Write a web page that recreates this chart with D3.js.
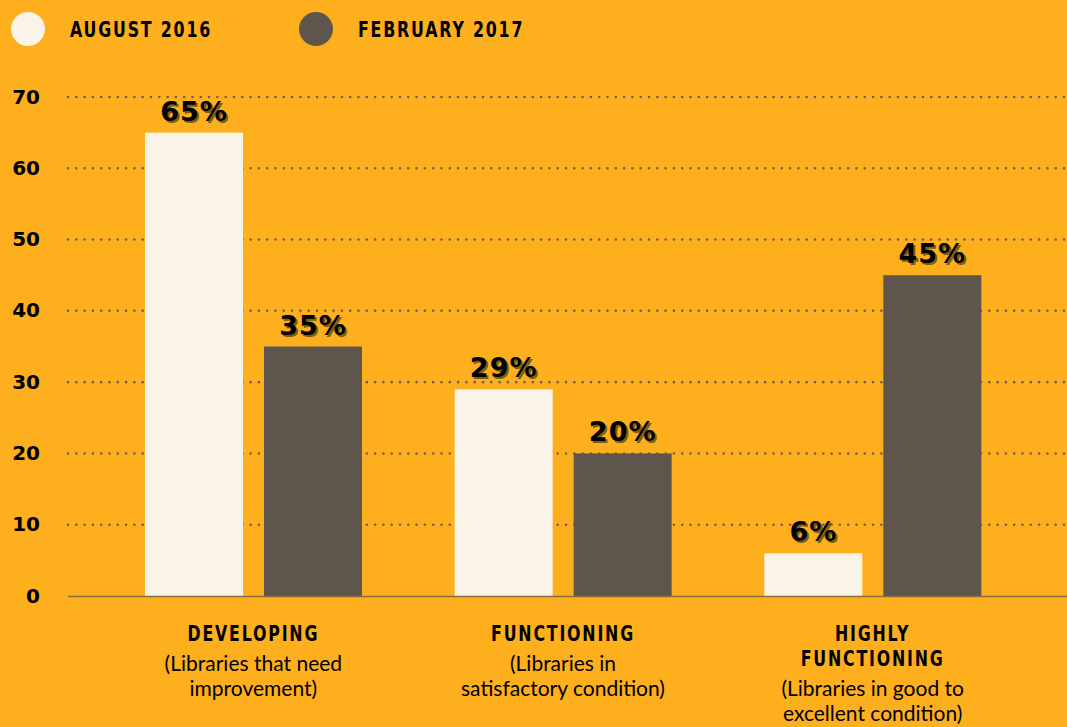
<!DOCTYPE html>
<html>
<head>
<meta charset="utf-8">
<script src="https://cdn.jsdelivr.net/npm/d3@7"></script>
<style>
  html, body { margin: 0; padding: 0; background: #fdaf1d; }
  svg { display: block; }
  .cond { font-family: "DejaVu Sans"; font-weight: bold; }
</style>
</head>
<body>
<div id="chart"></div>
<script>
// data
const categories = ["DEVELOPING", "FUNCTIONING", "HIGHLY FUNCTIONING"];
const categoryTitles = [["DEVELOPING"], ["FUNCTIONING"], ["HIGHLY", "FUNCTIONING"]];
const categoryNotes = [
    ["(Libraries that need", "improvement)"],
    ["(Libraries in", "satisfactory condition)"],
    ["(Libraries in good to", "excellent condition)"]
];
const seriesNames = ["AUGUST 2016", "FEBRUARY 2017"];
const august2016 = [65, 29, 6];
const february2017 = [35, 20, 45];
const yTicks = [0, 10, 20, 30, 40, 50, 60, 70];

const width = 1067, height = 727;
const colors = { "AUGUST 2016": "#faf3e8", "FEBRUARY 2017": "#5e564d" };
const squeeze = 0.72; // condensed look for the headings

const svg = d3.select("#chart")
    .append("svg")
    .attr("width", width)
    .attr("height", height);

svg.append("rect")
    .attr("width", width)
    .attr("height", height)
    .attr("fill", "#fdaf1d");

const x0 = d3.scaleBand()
    .domain(categories)
    .range([98.5, 1027.5])
    .padding(0);

const x1 = d3.scaleBand()
    .domain(seriesNames)
    .range([46.5, 263.5])
    .paddingInner(0.1765)
    .paddingOuter(0);

const y = d3.scaleLinear()
    .domain([0, 70])
    .range([596, 97]);

// gridlines (dotted)
svg.append("g")
    .selectAll("line")
    .data(yTicks.filter(d => d > 0))
    .join("line")
    .attr("x1", 68)
    .attr("x2", width)
    .attr("y1", d => y(d))
    .attr("y2", d => y(d))
    .attr("stroke", "#6b6158")
    .attr("stroke-width", 2.6)
    .attr("stroke-linecap", "round")
    .attr("stroke-dasharray", "0 8.3");

// y axis labels
const yAxis = svg.append("g")
    .attr("transform", "translate(40,0)")
    .call(d3.axisLeft(y).tickValues(yTicks).tickSize(0).tickPadding(0));
yAxis.select(".domain").remove();
yAxis.selectAll("text")
    .attr("dy", "0.3em")
    .attr("fill", "#000")
    .attr("font-family", "DejaVu Sans")
    .attr("font-weight", "bold")
    .attr("font-size", 20);

// bars
const rows = categories.map((c, i) => ({
    category: c,
    values: [
        { key: seriesNames[0], value: august2016[i] },
        { key: seriesNames[1], value: february2017[i] }
    ]
}));

const group = svg.append("g")
    .selectAll("g")
    .data(rows)
    .join("g")
    .attr("transform", d => `translate(${x0(d.category)},0)`);

group.selectAll("rect")
    .data(d => d.values)
    .join("rect")
    .attr("x", d => x1(d.key))
    .attr("y", d => y(d.value))
    .attr("width", x1.bandwidth())
    .attr("height", d => y(0) - y(d.value))
    .attr("fill", d => colors[d.key]);

// value labels with shadow
const labelAttrs = sel => sel
    .attr("text-anchor", "middle")
    .attr("font-family", "DejaVu Sans")
    .attr("font-weight", "bold")
    .attr("font-size", 27)
    .attr("letter-spacing", 1)
    .text(d => d.value + "%");

group.selectAll("text.shadow")
    .data(d => d.values)
    .join("text")
    .attr("class", "shadow")
    .attr("x", d => x1(d.key) + x1.bandwidth() / 2 + 2)
    .attr("y", d => y(d.value) - 10)
    .attr("fill", "#7d5d12")
    .call(labelAttrs);

group.selectAll("text.value")
    .data(d => d.values)
    .join("text")
    .attr("class", "value")
    .attr("x", d => x1(d.key) + x1.bandwidth() / 2)
    .attr("y", d => y(d.value) - 12)
    .attr("fill", "#000")
    .call(labelAttrs);

// baseline
svg.append("line")
    .attr("x1", 68)
    .attr("x2", width)
    .attr("y1", y(0) + 0.5)
    .attr("y2", y(0) + 0.5)
    .attr("stroke", "#8a6d3a")
    .attr("stroke-width", 1.6);

// category labels
const catLabel = svg.append("g")
    .selectAll("g")
    .data(categories)
    .join("g")
    .attr("transform", d => `translate(${x0(d) + x0.bandwidth() / 2},0)`);

catLabel.each(function (d, i) {
    const g = d3.select(this);
    const titles = categoryTitles[i];
    titles.forEach((t, j) => {
        g.append("text")
            .attr("class", "cond")
            .attr("transform", `translate(0,${641 + j * 25}) scale(${squeeze},1)`)
            .attr("text-anchor", "middle")
            .attr("font-size", 22)
            .attr("letter-spacing", 2.5)
            .attr("fill", "#000")
            .text(t);
    });
    categoryNotes[i].forEach((t, j) => {
        g.append("text")
            .attr("y", 671 + (titles.length - 1) * 25 + j * 25)
            .attr("text-anchor", "middle")
            .attr("font-family", "Lato")
            .attr("font-size", 21)
            .attr("fill", "#000")
            .text(t);
    });
});

// legend
const legendX = [28, 316];
const legend = svg.append("g")
    .selectAll("g")
    .data(seriesNames)
    .join("g")
    .attr("transform", (d, i) => `translate(${legendX[i]},29)`);

legend.append("circle")
    .attr("r", 17)
    .attr("fill", d => colors[d]);

legend.append("text")
    .attr("class", "cond")
    .attr("transform", `translate(42,8) scale(${squeeze},1)`)
    .attr("font-size", 22)
    .attr("letter-spacing", 2.5)
    .attr("fill", "#000")
    .text(d => d);
</script>
</body>
</html>
